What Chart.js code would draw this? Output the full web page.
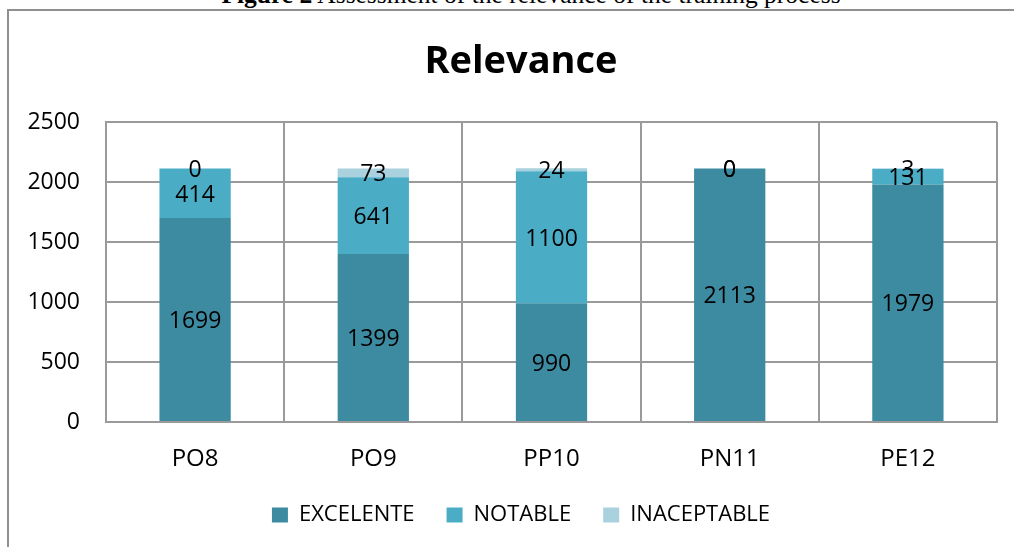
<!DOCTYPE html>
<html>
<head>
<meta charset="utf-8">
<script src="https://cdn.jsdelivr.net/npm/chart.js@4/dist/chart.umd.min.js"></script>
<style>
  html, body { margin: 0; padding: 0; background: #fff; overflow: hidden; width: 1014px; height: 547px; }
  #frame { position: absolute; left: 7px; top: 9px; width: 1100px; height: 600px; border: 2px solid #909090; box-sizing: border-box; }
  #caption { position: absolute; top: -18px; left: 531px; transform: translateX(-50%); white-space: nowrap;
             font-family: "Liberation Serif", "Times New Roman", serif; font-size: 25.5px; line-height: 25.5px; color: #000; }
  #chart { position: absolute; left: 0; top: 0; }
</style>
</head>
<body>
<div id="caption"><b>Figure 2</b> Assessment of the relevance of the training process</div>
<div id="frame"></div>
<canvas id="chart" width="1014" height="547"></canvas>
<script>
const categories = ['PO8', 'PO9', 'PP10', 'PN11', 'PE12'];
const excelente = [1699, 1399, 990, 2113, 1979];
const notable = [414, 641, 1100, 0, 131];
const inaceptable = [0, 73, 24, 0, 3];
const seriesNames = ['EXCELENTE', 'NOTABLE', 'INACEPTABLE'];
const yMin = 0, yMax = 2500, yStep = 500;

const valueLabels = {
  id: 'valueLabels',
  afterDatasetsDraw(chart) {
    const ctx = chart.ctx;
    ctx.save();
    ctx.font = '23px "Open Sans"';
    ctx.fillStyle = '#000';
    ctx.textAlign = 'center';
    ctx.textBaseline = 'middle';
    chart.data.datasets.forEach((ds, i) => {
      const meta = chart.getDatasetMeta(i);
      meta.data.forEach((bar, j) => {
        const p = bar.getProps(['x', 'y', 'base'], true);
        ctx.fillText(String(ds.data[j]), p.x, (p.y + p.base) / 2 + 2);
      });
    });
    ctx.restore();
  }
};

// widen the y-axis label clip region so the tick labels are not cut off
const widenYAxis = {
  id: 'widenYAxis',
  afterLayout(chart) { chart.scales.y.left = 0; }
};

const gridColor = '#9a9a9a';

new Chart(document.getElementById('chart'), {
  type: 'bar',
  data: {
    labels: categories,
    datasets: [
      { label: seriesNames[0], data: excelente, backgroundColor: '#3D8BA1' },
      { label: seriesNames[1], data: notable, backgroundColor: '#4BACC6' },
      { label: seriesNames[2], data: inaceptable, backgroundColor: '#A9D1DE' }
    ]
  },
  options: {
    responsive: false,
    animation: false,
    devicePixelRatio: 1,
    layout: { padding: { left: 45, right: 17, top: 0, bottom: 11 } },
    datasets: { bar: { barPercentage: 0.4, categoryPercentage: 1.0, borderWidth: 0 } },
    scales: {
      x: {
        stacked: true,
        grid: { color: gridColor, lineWidth: 2, drawTicks: false, offset: true },
        border: { color: gridColor, width: 2 },
        ticks: { color: '#000', font: { family: 'Open Sans', size: 24 }, padding: 23 },
        afterFit(scale) { scale.height = 50; }
      },
      y: {
        stacked: true,
        min: yMin, max: yMax,
        grid: { color: gridColor, lineWidth: 2, drawTicks: false },
        border: { color: gridColor, width: 2 },
        ticks: {
          stepSize: yStep, color: '#000', font: { family: 'Open Sans', size: 23 }, padding: 26,
          callback: (v) => String(v)
        },
        afterFit(scale) { scale.width = 61; }
      }
    },
    plugins: {
      title: {
        display: true,
        text: 'Relevance',
        color: '#000',
        font: { family: 'Open Sans', size: 38, weight: 'bold', lineHeight: 1.2 },
        padding: { top: 39, bottom: 37.4 }
      },
      legend: {
        display: true,
        position: 'bottom',
        labels: {
          color: '#000',
          font: { family: 'Open Sans', size: 22 },
          boxWidth: 16, boxHeight: 15,
          padding: 32
        }
      },
      tooltip: { enabled: false }
    }
  },
  plugins: [valueLabels, widenYAxis]
});
</script>
</body>
</html>
